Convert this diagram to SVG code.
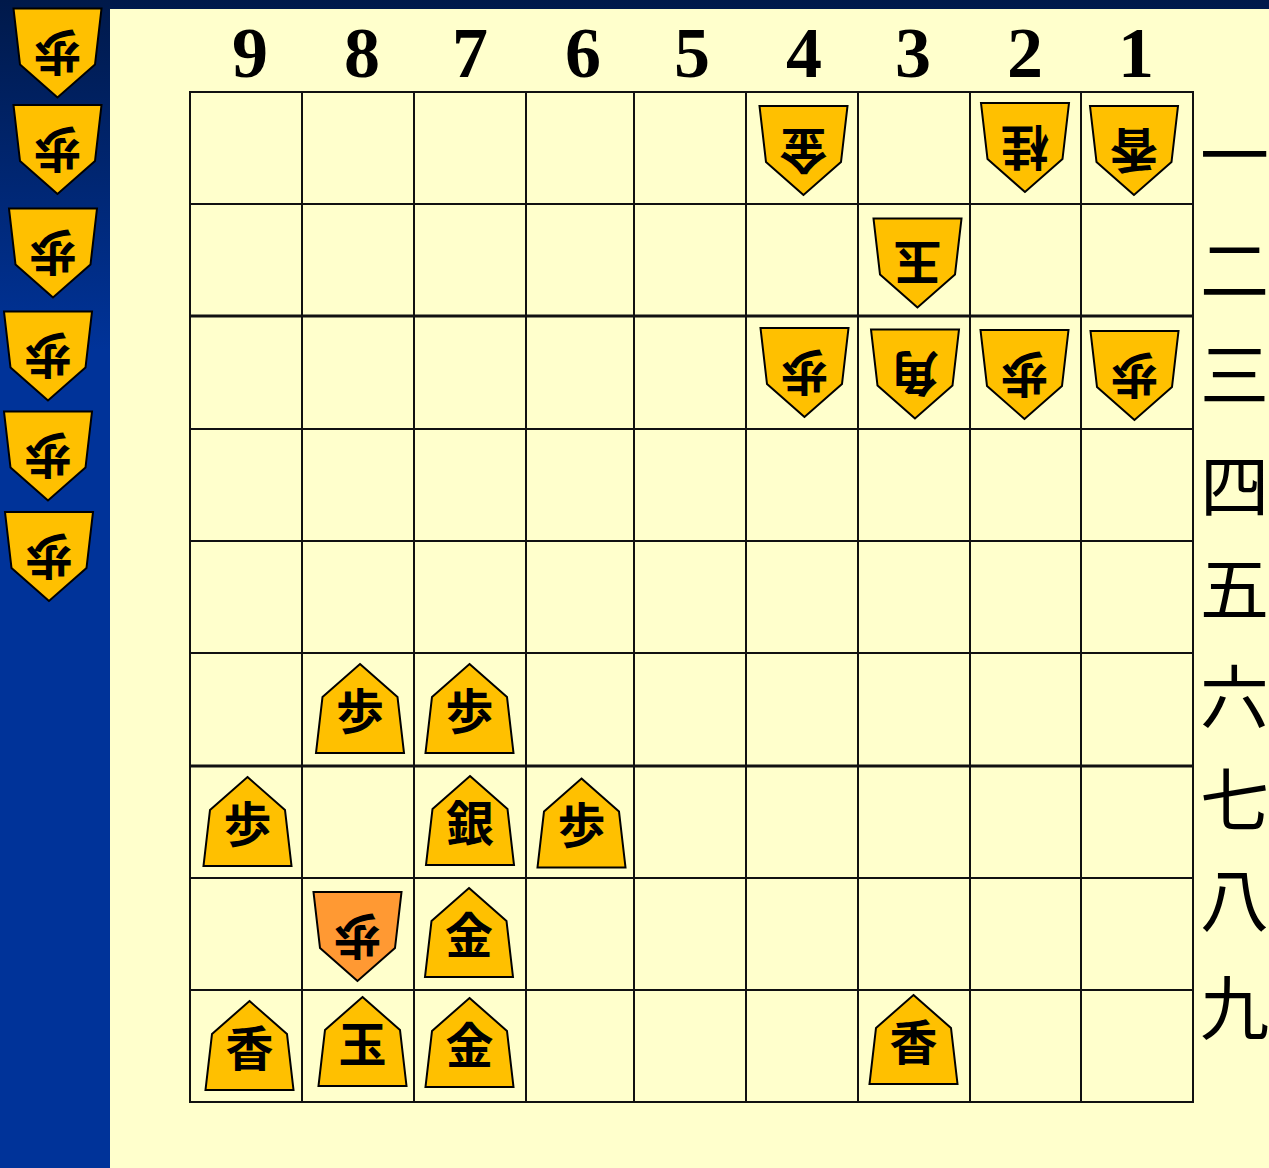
<svg xmlns="http://www.w3.org/2000/svg" xmlns:xlink="http://www.w3.org/1999/xlink" width="1269" height="1168" viewBox="0 0 1269 1168">
<defs>
<linearGradient id="bg" x1="0" y1="0" x2="0" y2="1168" gradientUnits="userSpaceOnUse">
<stop offset="0" stop-color="#00194a"/>
<stop offset="0.3" stop-color="#003399"/>
<stop offset="1" stop-color="#003399"/>
</linearGradient>
<path id="sente" d="M0,-44.5 L37.5,-11.5 L44,44.5 L-44,44.5 L-37.5,-11.5 Z"/>
<path id="gote" d="M0,44.5 L-37.5,11.5 L-44,-44.5 L44,-44.5 L37.5,11.5 Z"/>
<style>
.pc{fill:#ffc000;stroke:#000;stroke-width:2;stroke-linejoin:miter}
.pc.or{fill:#ff9933}
.k{font-family:"Noto Sans CJK JP","Noto Sans CJK SC",sans-serif;font-weight:bold;font-size:48px;text-anchor:middle;fill:#000}
.col{font-family:"Liberation Serif","Times New Roman",serif;font-weight:bold;font-size:72px;text-anchor:middle;fill:#000}
.row{font-family:"Noto Sans CJK JP","Noto Sans CJK SC",sans-serif;font-size:69px;text-anchor:start;fill:#000;dominant-baseline:central}
.g{stroke:#111;stroke-width:2;fill:none}
.gt{stroke:#111;stroke-width:3;fill:none}
</style>
</defs>
<rect x="0" y="0" width="1269" height="1168" fill="url(#bg)"/>
<rect x="110" y="9" width="1159" height="1159" fill="#ffffcc"/>

<g id="grid">
<rect class="g" x="190" y="92" width="1003" height="1010"/>
<path class="g" d="M302,92V1102M414,92V1102M526,92V1102M634,92V1102M746,92V1102M858,92V1102M970,92V1102M1081,92V1102"/>
<path class="g" d="M190,204H1193M190,429H1193M190,541H1193M190,653H1193M190,878H1193M190,990H1193"/>
<path class="gt" d="M190,316H1193M190,766H1193"/>
</g>

<g id="col-labels">
<text class="col" x="250" y="77">9</text>
<text class="col" x="362" y="77">8</text>
<text class="col" x="470" y="77">7</text>
<text class="col" x="583" y="77">6</text>
<text class="col" x="692" y="77">5</text>
<text class="col" x="804" y="77">4</text>
<text class="col" x="913" y="77">3</text>
<text class="col" x="1025" y="77">2</text>
<text class="col" x="1136" y="77">1</text>
</g>

<g id="row-labels">
<text class="row" x="1200" y="151">一</text>
<text class="row" x="1200" y="266">二</text>
<text class="row" x="1200" y="371">三</text>
<text class="row" x="1200" y="482">四</text>
<text class="row" x="1200" y="585">五</text>
<text class="row" x="1200" y="693">六</text>
<text class="row" x="1200" y="796">七</text>
<text class="row" x="1200" y="896">八</text>
<text class="row" x="1200" y="1004">九</text>
</g>

<!-- gote hand -->
<g id="hand1" transform="translate(57.5,53)"><use href="#gote" class="pc"/><text class="k" y="18" transform="rotate(180)">歩</text></g>
<g id="hand2" transform="translate(57.5,149.5)"><use href="#gote" class="pc"/><text class="k" y="18" transform="rotate(180)">歩</text></g>
<g id="hand3" transform="translate(53,253)"><use href="#gote" class="pc"/><text class="k" y="18" transform="rotate(180)">歩</text></g>
<g id="hand4" transform="translate(48,356)"><use href="#gote" class="pc"/><text class="k" y="18" transform="rotate(180)">歩</text></g>
<g id="hand5" transform="translate(48,456)"><use href="#gote" class="pc"/><text class="k" y="18" transform="rotate(180)">歩</text></g>
<g id="hand6" transform="translate(49,556.5)"><use href="#gote" class="pc"/><text class="k" y="18" transform="rotate(180)">歩</text></g>

<!-- gote pieces on board -->
<g id="g41" transform="translate(803.5,150.5)"><use href="#gote" class="pc"/><text class="k" y="18" transform="rotate(180)">金</text></g>
<g id="g21" transform="translate(1025,147.5)"><use href="#gote" class="pc"/><text class="k" y="18" transform="rotate(180)">桂</text></g>
<g id="g11" transform="translate(1134,150.5)"><use href="#gote" class="pc"/><text class="k" y="18" transform="rotate(180)">香</text></g>
<g id="g32" transform="translate(917.5,263)"><use href="#gote" class="pc"/><text class="k" y="18" transform="rotate(180)">玉</text></g>
<g id="g43" transform="translate(804.5,372.5)"><use href="#gote" class="pc"/><text class="k" y="18" transform="rotate(180)">歩</text></g>
<g id="g33" transform="translate(915,374)"><use href="#gote" class="pc"/><text class="k" y="18" transform="rotate(180)">角</text></g>
<g id="g23" transform="translate(1024.5,374.5)"><use href="#gote" class="pc"/><text class="k" y="18" transform="rotate(180)">歩</text></g>
<g id="g13" transform="translate(1134.5,375.5)"><use href="#gote" class="pc"/><text class="k" y="18" transform="rotate(180)">歩</text></g>
<g id="g88" transform="translate(357.5,936.5)"><use href="#gote" class="pc or"/><text class="k" y="18" transform="rotate(180)">歩</text></g>

<!-- sente pieces -->
<g id="s86" transform="translate(360,708.5)"><use href="#sente" class="pc"/><text class="k" y="20">歩</text></g>
<g id="s76" transform="translate(469.5,708.5)"><use href="#sente" class="pc"/><text class="k" y="20">歩</text></g>
<g id="s97" transform="translate(247.5,821.5)"><use href="#sente" class="pc"/><text class="k" y="20">歩</text></g>
<g id="s77" transform="translate(470,820.5)"><use href="#sente" class="pc"/><text class="k" y="20">銀</text></g>
<g id="s67" transform="translate(581.5,823)"><use href="#sente" class="pc"/><text class="k" y="20">歩</text></g>
<g id="s78" transform="translate(469,932.5)"><use href="#sente" class="pc"/><text class="k" y="20">金</text></g>
<g id="s99" transform="translate(249.5,1045.5)"><use href="#sente" class="pc"/><text class="k" y="20">香</text></g>
<g id="s89" transform="translate(362.5,1041.5)"><use href="#sente" class="pc"/><text class="k" y="20">玉</text></g>
<g id="s79" transform="translate(469.5,1042.5)"><use href="#sente" class="pc"/><text class="k" y="20">金</text></g>
<g id="s39" transform="translate(913.5,1039.5)"><use href="#sente" class="pc"/><text class="k" y="20">香</text></g>

<g id="connectors"/>
</svg>
